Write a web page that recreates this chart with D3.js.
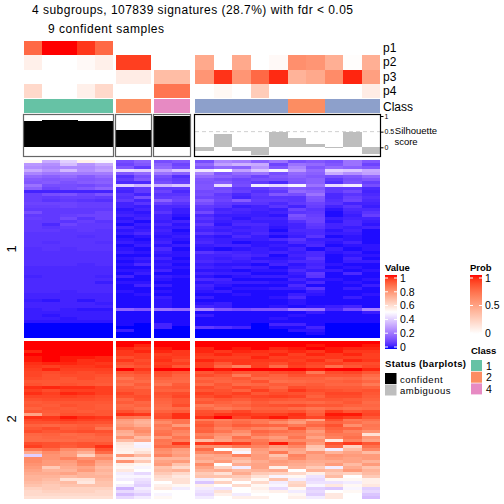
<!DOCTYPE html>
<html><head><meta charset="utf-8">
<script src="https://cdn.jsdelivr.net/npm/d3@7/dist/d3.min.js"></script>
<style>html,body{margin:0;padding:0;background:#fff}svg{display:block}text{font-family:"Liberation Sans",sans-serif;fill:#000}</style>
</head><body><svg id="c" width="504" height="504"></svg>
<script>
const titleLines = ["4 subgroups, 107839 signatures (28.7%) with fdr < 0.05", "9 confident samples"];
const groupSizes = [5, 2, 2, 10];
const probNames = ["p1", "p2", "p3", "p4"];
const p1 = [75,100,100,92,75, 0,0, 0,0, 0,0,0,0,0,0,0,0,0,0];
const p2 = [8,0,0,3,8, 90,90, 0,0, 45,0,45,0,3,58,55,42,1,42];
const p3 = [0,0,0,0,0, 10,10, 35,35, 55,93,55,75,95,40,45,60,96,50];
const p4 = [20,0,0,8,20, 0,0, 70,70, 0,4,0,27,0,0,0,0,0,10];
const classes = ["1","1","1","1","1","2","2","4","4","3","3","3","3","3","2","2","3","3","3"];
const classColors = {"1":"#66C2A5","2":"#FC8D62","3":"#8DA0CB","4":"#E78AC3"};
const silhouette = [0.85,0.88,0.88,0.85,0.85, 0.55,0.55, 1,1, -0.13,0.42,-0.13,-0.26,0.5,0.3,0.12,-0.03,0.5,-0.2];
const confident = [1,1,1,1,1,1,1,1,1,0,0,0,0,0,0,0,0,0,0];
const block1 = [
[52,32,40,54,48,12,16,12,14,12,24,22,16,20,12,14,12,20,14],
[28,26,36,27,32,10,14,16,10,18,30,34,32,10,20,18,14,20,10],
[26,24,25,25,28,14,8,18,12,14,18,16,28,14,24,14,18,16,14],
[32,27,35,26,30,42,40,30,38,45,50,30,38,47,28,18,40,38,32],
[24,21,22,22,22,14,18,20,16,24,14,18,20,12,18,16,32,26,30],
[18,16,18,15,18,6,12,12,6,18,16,14,10,14,16,14,12,14,18],
[15,14,15,14,15,8,14,10,8,14,12,10,12,12,14,16,8,12,14],
[14,15,13,15,16,5,5,12,9,13,15,11,8,5,13,16,6,13,9],
[20,12,12,11,13,40,34,34,38,14,42,12,46,42,48,20,42,46,12],
[16,10,12,14,17,5,8,8,8,14,11,8,8,11,15,14,8,8,5],
[4,4,4,4,4,4,8,10,5,11,12,9,6,8,18,16,8,11,4],
[9,12,13,10,13,7,4,7,7,12,8,5,8,14,12,20,5,7,5],
[9,8,9,9,8,6,12,8,9,10,9,4,7,7,7,14,5,9,6],
[9,7,8,7,6,8,4,16,10,15,10,15,8,8,7,13,6,10,5],
[10,10,10,9,9,4,7,9,7,12,8,7,7,5,8,10,7,4,4],
[9,9,10,9,9,4,3,5,5,8,7,3,4,7,4,9,4,7,3],
[8,8,8,8,8,2,4,5,3,7,4,5,4,3,10,7,2,5,5],
[12,8,8,8,10,3,2,7,3,11,5,4,3,4,7,8,1,4,7],
[8,8,9,10,10,4,3,4,2,5,3,3,3,2,13,9,1,3,9],
[9,8,11,7,10,2,4,4,1,7,4,2,4,4,11,10,3,4,4],
[8,8,7,9,7,3,1,3,4,5,3,4,3,3,6,10,2,5,3],
[8,5,10,8,8,1,3,5,2,8,2,5,5,3,4,8,4,5,2],
[8,7,8,8,8,4,2,3,3,5,4,3,4,2,4,7,4,3,4],
[8,8,7,8,7,2,3,4,1,4,3,4,4,1,5,5,2,4,1],
[7,7,7,7,7,3,5,3,2,7,5,3,5,3,4,5,3,3,1],
[7,7,7,6,7,1,2,2,3,3,2,5,3,1,3,7,1,2,1],
[7,7,7,7,7,2,1,3,2,4,3,3,3,5,7,3,3,2,1],
[7,6,7,7,6,3,2,4,1,5,3,1,2,2,5,4,2,4,1],
[7,7,7,7,7,1,3,2,3,3,4,4,2,3,2,5,1,2,2],
[6,7,6,7,7,2,1,5,1,2,1,2,3,2,4,1,3,1,2],
[6,6,6,6,6,3,2,3,2,7,5,4,3,4,3,5,2,3,1],
[6,6,6,6,6,1,1,2,2,4,4,5,4,1,4,5,1,2,2],
[6,6,6,6,6,2,3,4,1,4,3,4,2,2,3,7,1,4,1],
[6,6,6,6,6,1,2,2,2,5,4,3,4,3,5,5,1,3,3],
[6,6,6,5,6,2,5,3,1,3,2,2,1,4,2,4,2,1,1],
[5,5,5,5,5,1,1,2,2,4,3,4,3,1,3,5,1,2,1],
[5,5,5,5,5,2,2,4,1,2,2,1,2,2,5,3,3,1,2],
[5,5,5,5,5,1,3,1,1,4,3,3,1,1,3,8,1,5,1],
[4,5,5,5,4,4,1,3,2,2,1,2,3,3,2,7,1,1,1],
[5,5,5,5,5,1,1,2,1,5,4,1,1,1,4,2,2,1,2],
[5,5,5,5,3,2,2,1,1,2,3,3,3,2,2,5,1,2,1],
[5,5,5,5,5,1,4,3,1,4,2,1,1,1,5,1,1,1,3],
[5,5,5,5,5,1,1,1,1,3,1,2,2,3,3,7,1,3,1],
[5,5,4,5,5,2,1,2,1,2,3,1,1,1,1,3,1,1,1],
[4,4,4,4,4,1,2,1,1,1,1,2,1,1,3,2,1,1,2],
[4,4,4,4,4,1,1,3,1,3,1,1,1,2,5,1,1,3,1],
[3,2,4,2,4,1,1,2,1,1,1,1,1,1,2,1,1,1,1],
[4,4,4,4,3,1,1,2,1,2,3,1,1,1,2,1,1,1,1],
[4,4,4,4,4,1,1,2,1,4,3,1,1,2,1,2,3,4,1],
[3,4,3,2,2,17,14,20,18,24,14,12,14,14,22,20,5,12,24],
[3,3,3,3,3,1,1,1,1,1,1,1,1,1,1,3,1,1,3],
[3,2,3,3,3,1,1,1,1,3,1,1,1,1,2,1,1,1,1],
[3,3,2,3,3,1,1,1,1,1,1,1,1,2,1,1,1,1,1],
[2,2,2,2,2,1,1,1,1,1,1,1,1,1,1,1,1,1,1],
[0,0,0,0,0,1,0,4,1,1,1,1,0,4,4,1,0,0,0],
[0,0,0,0,0,0,0,4,0,8,6,4,0,1,1,4,0,0,0],
[0,0,0,0,0,3,0,0,0,0,0,0,0,0,2,2,0,0,0],
[0,0,0,0,0,0,0,0,0,0,0,0,0,0,0,1,0,0,0],
[0,0,0,0,0,0,0,0,0,0,0,0,0,0,0,0,0,0,0]
];
const block2 = [
[100,100,100,100,100,100,100,100,100,100,100,100,100,100,100,100,100,100,100],
[100,100,100,100,100,100,98,100,100,100,100,100,100,100,100,99,100,100,99],
[100,100,100,100,100,98,96,99,100,98,100,99,100,98,99,100,99,98,98],
[98,100,100,100,100,96,98,98,96,98,96,98,97,96,98,96,99,96,96],
[100,100,100,100,100,96,95,95,96,96,98,96,96,98,95,98,96,98,95],
[99,100,99,99,98,93,95,96,95,95,95,95,98,95,96,95,96,95,95],
[99,100,99,97,98,96,93,97,93,98,96,96,96,96,95,97,93,98,96],
[97,98,98,97,96,92,94,95,95,95,91,96,95,93,96,94,95,93,93],
[96,95,96,96,97,90,92,96,91,95,88,82,95,87,95,93,86,91,94],
[95,98,95,95,95,100,96,100,100,100,99,100,100,100,100,99,100,100,98],
[94,93,94,93,94,91,93,93,91,91,94,91,91,93,94,84,93,94,91],
[94,92,93,93,92,89,90,92,89,93,91,84,91,89,92,91,91,91,87],
[93,92,91,93,91,85,89,89,88,88,89,91,87,88,89,89,87,88,85],
[91,91,91,91,91,88,87,87,87,90,88,89,92,86,87,88,89,90,88],
[92,91,92,91,90,86,90,85,90,87,91,87,88,90,89,90,88,88,84],
[97,98,97,97,95,90,88,90,91,93,90,93,91,88,93,91,90,90,89],
[95,93,95,95,95,91,91,89,89,91,92,89,95,91,96,93,92,91,92],
[97,95,98,97,95,94,91,92,93,95,93,95,91,93,92,91,94,94,91],
[94,94,95,94,93,92,93,91,94,93,95,93,94,95,94,89,93,93,90],
[92,93,93,93,92,88,92,89,91,89,91,90,92,91,90,91,91,90,89],
[90,91,91,91,91,90,88,88,91,91,89,87,90,88,88,87,89,91,87],
[91,90,92,91,90,87,89,87,93,84,87,89,91,92,93,91,91,89,88],
[89,91,90,91,90,88,86,86,87,87,84,86,89,89,87,85,87,86,87],
[91,90,91,90,91,92,89,89,90,92,91,94,91,91,92,88,95,91,93],
[74,89,92,92,91,97,96,92,97,93,96,96,95,95,97,90,99,99,94],
[97,96,99,97,96,85,84,93,97,97,100,94,97,99,96,94,97,95,91],
[94,95,96,95,94,76,72,84,85,83,82,85,84,86,80,74,92,84,86],
[92,92,93,92,92,74,70,80,85,89,85,87,84,80,76,85,88,86,83],
[89,88,89,90,89,76,72,84,76,91,86,90,89,88,84,88,92,79,85],
[91,93,90,91,85,80,78,82,86,88,82,85,82,80,91,82,89,88,84],
[93,91,92,93,92,72,80,85,82,89,85,80,88,86,84,76,87,82,78],
[88,89,87,88,90,70,76,86,80,82,79,76,85,82,82,79,84,84,58],
[87,88,88,87,88,78,68,78,85,85,76,86,79,76,85,74,82,86,77],
[87,87,87,88,88,68,72,85,82,68,74,82,84,79,80,79,56,82,74],
[93,92,91,92,91,57,48,84,96,96,97,95,86,99,87,76,92,96,91],
[95,92,90,92,97,55,47,87,87,79,79,84,82,76,81,66,88,62,86],
[84,87,80,78,92,54,54,80,76,87,50,56,76,72,74,64,46,68,81],
[72,80,76,71,87,53,58,78,74,80,82,48,74,84,72,78,70,74,68],
[40,78,76,62,76,76,68,82,76,72,74,82,76,66,82,74,78,76,76],
[80,78,82,78,80,56,56,70,70,74,72,70,76,72,80,74,76,74,76],
[80,76,76,82,74,78,64,74,76,70,76,66,72,76,74,72,72,74,70],
[78,76,74,80,72,54,52,76,66,80,50,72,74,74,72,70,76,68,76],
[76,64,72,74,68,52,48,66,60,74,62,46,74,54,70,64,46,72,66],
[74,70,70,76,70,56,50,68,70,70,72,68,70,72,50,70,68,76,70],
[72,72,74,70,68,46,42,64,60,64,58,72,64,62,60,54,64,62,68],
[70,70,68,70,70,48,48,60,56,66,66,64,58,48,52,44,68,50,64],
[70,68,58,58,68,46,44,58,58,46,52,60,52,66,46,42,52,52,54],
[68,66,68,56,66,50,42,50,58,38,62,50,60,46,60,44,44,46,54],
[66,64,66,66,66,46,40,54,52,54,50,60,52,48,62,48,56,52,56],
[62,64,62,62,62,34,46,56,46,46,44,50,54,42,52,40,38,48,40],
[60,62,62,62,60,42,44,50,50,44,58,50,52,54,46,42,50,52,42],
[60,60,60,60,60,36,40,48,50,42,54,46,50,50,52,40,56,50,38],
[58,58,58,58,58,42,46,52,50,46,50,54,54,50,54,46,56,50,36]
];
const valueTicks = [0, 0.2, 0.4, 0.6, 0.8, 1];
const probTicks = [0, 0.5, 1];
const silTicks = [0, 0.5, 1];
const classLegend = ["1", "2", "4"];
const statusLegend = [["confident", "#000000"], ["ambiguous", "#BEBEBE"]];

const svg = d3.select("#c");
const valColor = d3.scaleLinear().domain([0,50,100]).range(["#0000FF","#FFFFFF","#FF0000"]).interpolate(d3.interpolateLab);
const probColor = d3.scaleLinear().domain([0,100]).range(["#FFFFFF","#FF0000"]).interpolate(d3.interpolateLab);

const groupExtents = [[24,113],[116,151],[154,190],[195,380]];
const colX = [], colW = [];
let c0 = 0;
groupSizes.forEach((n, g) => {
  const sc = d3.scaleBand().domain(d3.range(n)).range(groupExtents[g]);
  d3.range(n).forEach(i => { colX[c0 + i] = sc(i); colW[c0 + i] = sc.bandwidth(); });
  c0 += n;
});

// titles
svg.append("text").attr("x",32).attr("y",14).attr("font-size",12).attr("textLength",321).text(titleLines[0]);
svg.append("text").attr("x",48).attr("y",33).attr("font-size",12).attr("textLength",116).text(titleLines[1]);

// probability rows
const probY = d3.scaleBand().domain(probNames).range([41,98]);
[p1,p2,p3,p4].forEach((arr, r) => {
  svg.append("g").attr("shape-rendering","crispEdges").selectAll("rect").data(arr).join("rect")
    .attr("x",(d,i)=>colX[i]).attr("width",(d,i)=>colW[i]+0.3)
    .attr("y",probY(probNames[r])).attr("height",probY.bandwidth()+0.2)
    .attr("fill",d=>probColor(d));
  svg.append("text").attr("x",383).attr("y",probY(probNames[r])+probY.bandwidth()/2+4).attr("font-size",12).text(probNames[r]);
});

// class row
svg.append("g").attr("shape-rendering","crispEdges").selectAll("rect").data(classes).join("rect")
  .attr("x",(d,i)=>colX[i]).attr("width",(d,i)=>colW[i]+0.3)
  .attr("y",99).attr("height",14).attr("fill",d=>classColors[d]);
svg.append("text").attr("x",383).attr("y",110.5).attr("font-size",12).text("Class");

// silhouette
const silY = d3.scaleLinear().domain([0,1]).range([147.3,116]);
const silTop = 114.5, silBottom = 156.5;
svg.append("line").attr("x1",195).attr("x2",380).attr("y1",silY(0.5)).attr("y2",silY(0.5))
  .attr("stroke","#D0D0D0").attr("stroke-dasharray","4,3");
svg.append("g").attr("shape-rendering","crispEdges").selectAll("rect").data(silhouette).join("rect")
  .attr("x",(d,i)=>colX[i]).attr("width",(d,i)=>colW[i]+0.3)
  .attr("y",d=>Math.min(silY(d),silY(0))).attr("height",d=>Math.abs(silY(d)-silY(0)))
  .attr("fill",(d,i)=>confident[i]?"#000":"#BEBEBE");
groupExtents.forEach((e,g) => {
  svg.append("rect").attr("x",e[0]-0.5).attr("y",silTop).attr("width",e[1]-e[0]+1).attr("height",silBottom-silTop)
    .attr("fill","none").attr("stroke",g===3?"#000":"#666").attr("stroke-width",1.2);
});
const silAxis = svg.append("g").attr("transform","translate(380.5,0)")
  .call(d3.axisRight(silY).tickValues(silTicks).tickSize(3).tickPadding(1).tickFormat(d3.format("~g")));
silAxis.select(".domain").remove();
silAxis.selectAll("text").attr("font-size",7).style("font-family","Liberation Sans");
svg.append("text").attr("x",416).attr("y",134).attr("font-size",9.5).attr("text-anchor","middle").text("Silhouette");
svg.append("text").attr("x",406).attr("y",145).attr("font-size",9.5).attr("text-anchor","middle").text("score");

// heatmaps
function drawBlock(rows, y0, y1) {
  const y = d3.scaleBand().domain(d3.range(rows.length)).range([y0,y1]);
  const g = svg.append("g").attr("shape-rendering","crispEdges");
  rows.forEach((row, r) => {
    g.append("g").selectAll("rect").data(row).join("rect")
      .attr("x",(d,i)=>colX[i]).attr("width",(d,i)=>colW[i]+0.3)
      .attr("y",y(r)).attr("height",y.bandwidth()+0.3)
      .attr("fill",d=>valColor(d));
  });
}
drawBlock(block1,160,338);
drawBlock(block2,341,499);
[["1",249],["2",419]].forEach(([t,yy]) => {
  svg.append("text").attr("transform",`translate(16,${yy}) rotate(-90)`).attr("font-size",13).attr("text-anchor","middle").text(t);
});

// legends
const defs = svg.append("defs");
function gradient(id, color, dom) {
  const lg = defs.append("linearGradient").attr("id",id).attr("x1",0).attr("x2",0).attr("y1",1).attr("y2",0);
  d3.range(0,21).forEach(i => lg.append("stop").attr("offset",i/20).attr("stop-color",color(dom*i/20)));
}
gradient("gv",valColor,100); gradient("gp",probColor,100);
function colorbar(x, y0, y1, id, scale, ticks, fmt) {
  svg.append("rect").attr("x",x).attr("y",y0).attr("width",12).attr("height",y1-y0).attr("fill",`url(#${id})`);
  const a = svg.append("g").attr("transform",`translate(${x+12},0)`)
    .call(d3.axisRight(scale).tickValues(ticks).tickSize(0).tickPadding(3).tickFormat(fmt));
  a.select(".domain").remove();
  a.selectAll("text").attr("font-size",10.5).style("font-family","Liberation Sans");
  ticks.forEach(t => {
    [x, x+9].forEach(px => svg.append("line").attr("x1",px).attr("x2",px+3).attr("y1",scale(t)).attr("y2",scale(t)).attr("stroke","#fff").attr("stroke-width",1));
  });
}
svg.append("text").attr("x",385).attr("y",270.5).attr("font-size",9.5).attr("font-weight","bold").text("Value");
colorbar(385,275,349,"gv",d3.scaleLinear().domain([0,1]).range([347,278]),valueTicks,d3.format("~g"));
svg.append("text").attr("x",470).attr("y",270.5).attr("font-size",9.5).attr("font-weight","bold").text("Prob");
colorbar(470,275,334,"gp",d3.scaleLinear().domain([0,1]).range([333,278]),probTicks,d3.format("~g"));

svg.append("text").attr("x",385).attr("y",367).attr("font-size",9.5).attr("font-weight","bold").attr("textLength",81).text("Status (barplots)");
statusLegend.forEach(([t,c],i) => {
  svg.append("rect").attr("x",385).attr("y",373+i*11.5).attr("width",11.5).attr("height",11).attr("fill",c);
  svg.append("text").attr("x",400).attr("y",382.5+i*11.5).attr("font-size",9.5).attr("letter-spacing",0.5).text(t);
});
svg.append("text").attr("x",471).attr("y",354).attr("font-size",9.5).attr("font-weight","bold").text("Class");
classLegend.forEach((t,i) => {
  svg.append("rect").attr("x",471).attr("y",360+i*11.7).attr("width",11).attr("height",11).attr("fill",classColors[t]);
  svg.append("text").attr("x",486).attr("y",369.5+i*11.7).attr("font-size",10.5).text(t);
});
</script></body></html>
